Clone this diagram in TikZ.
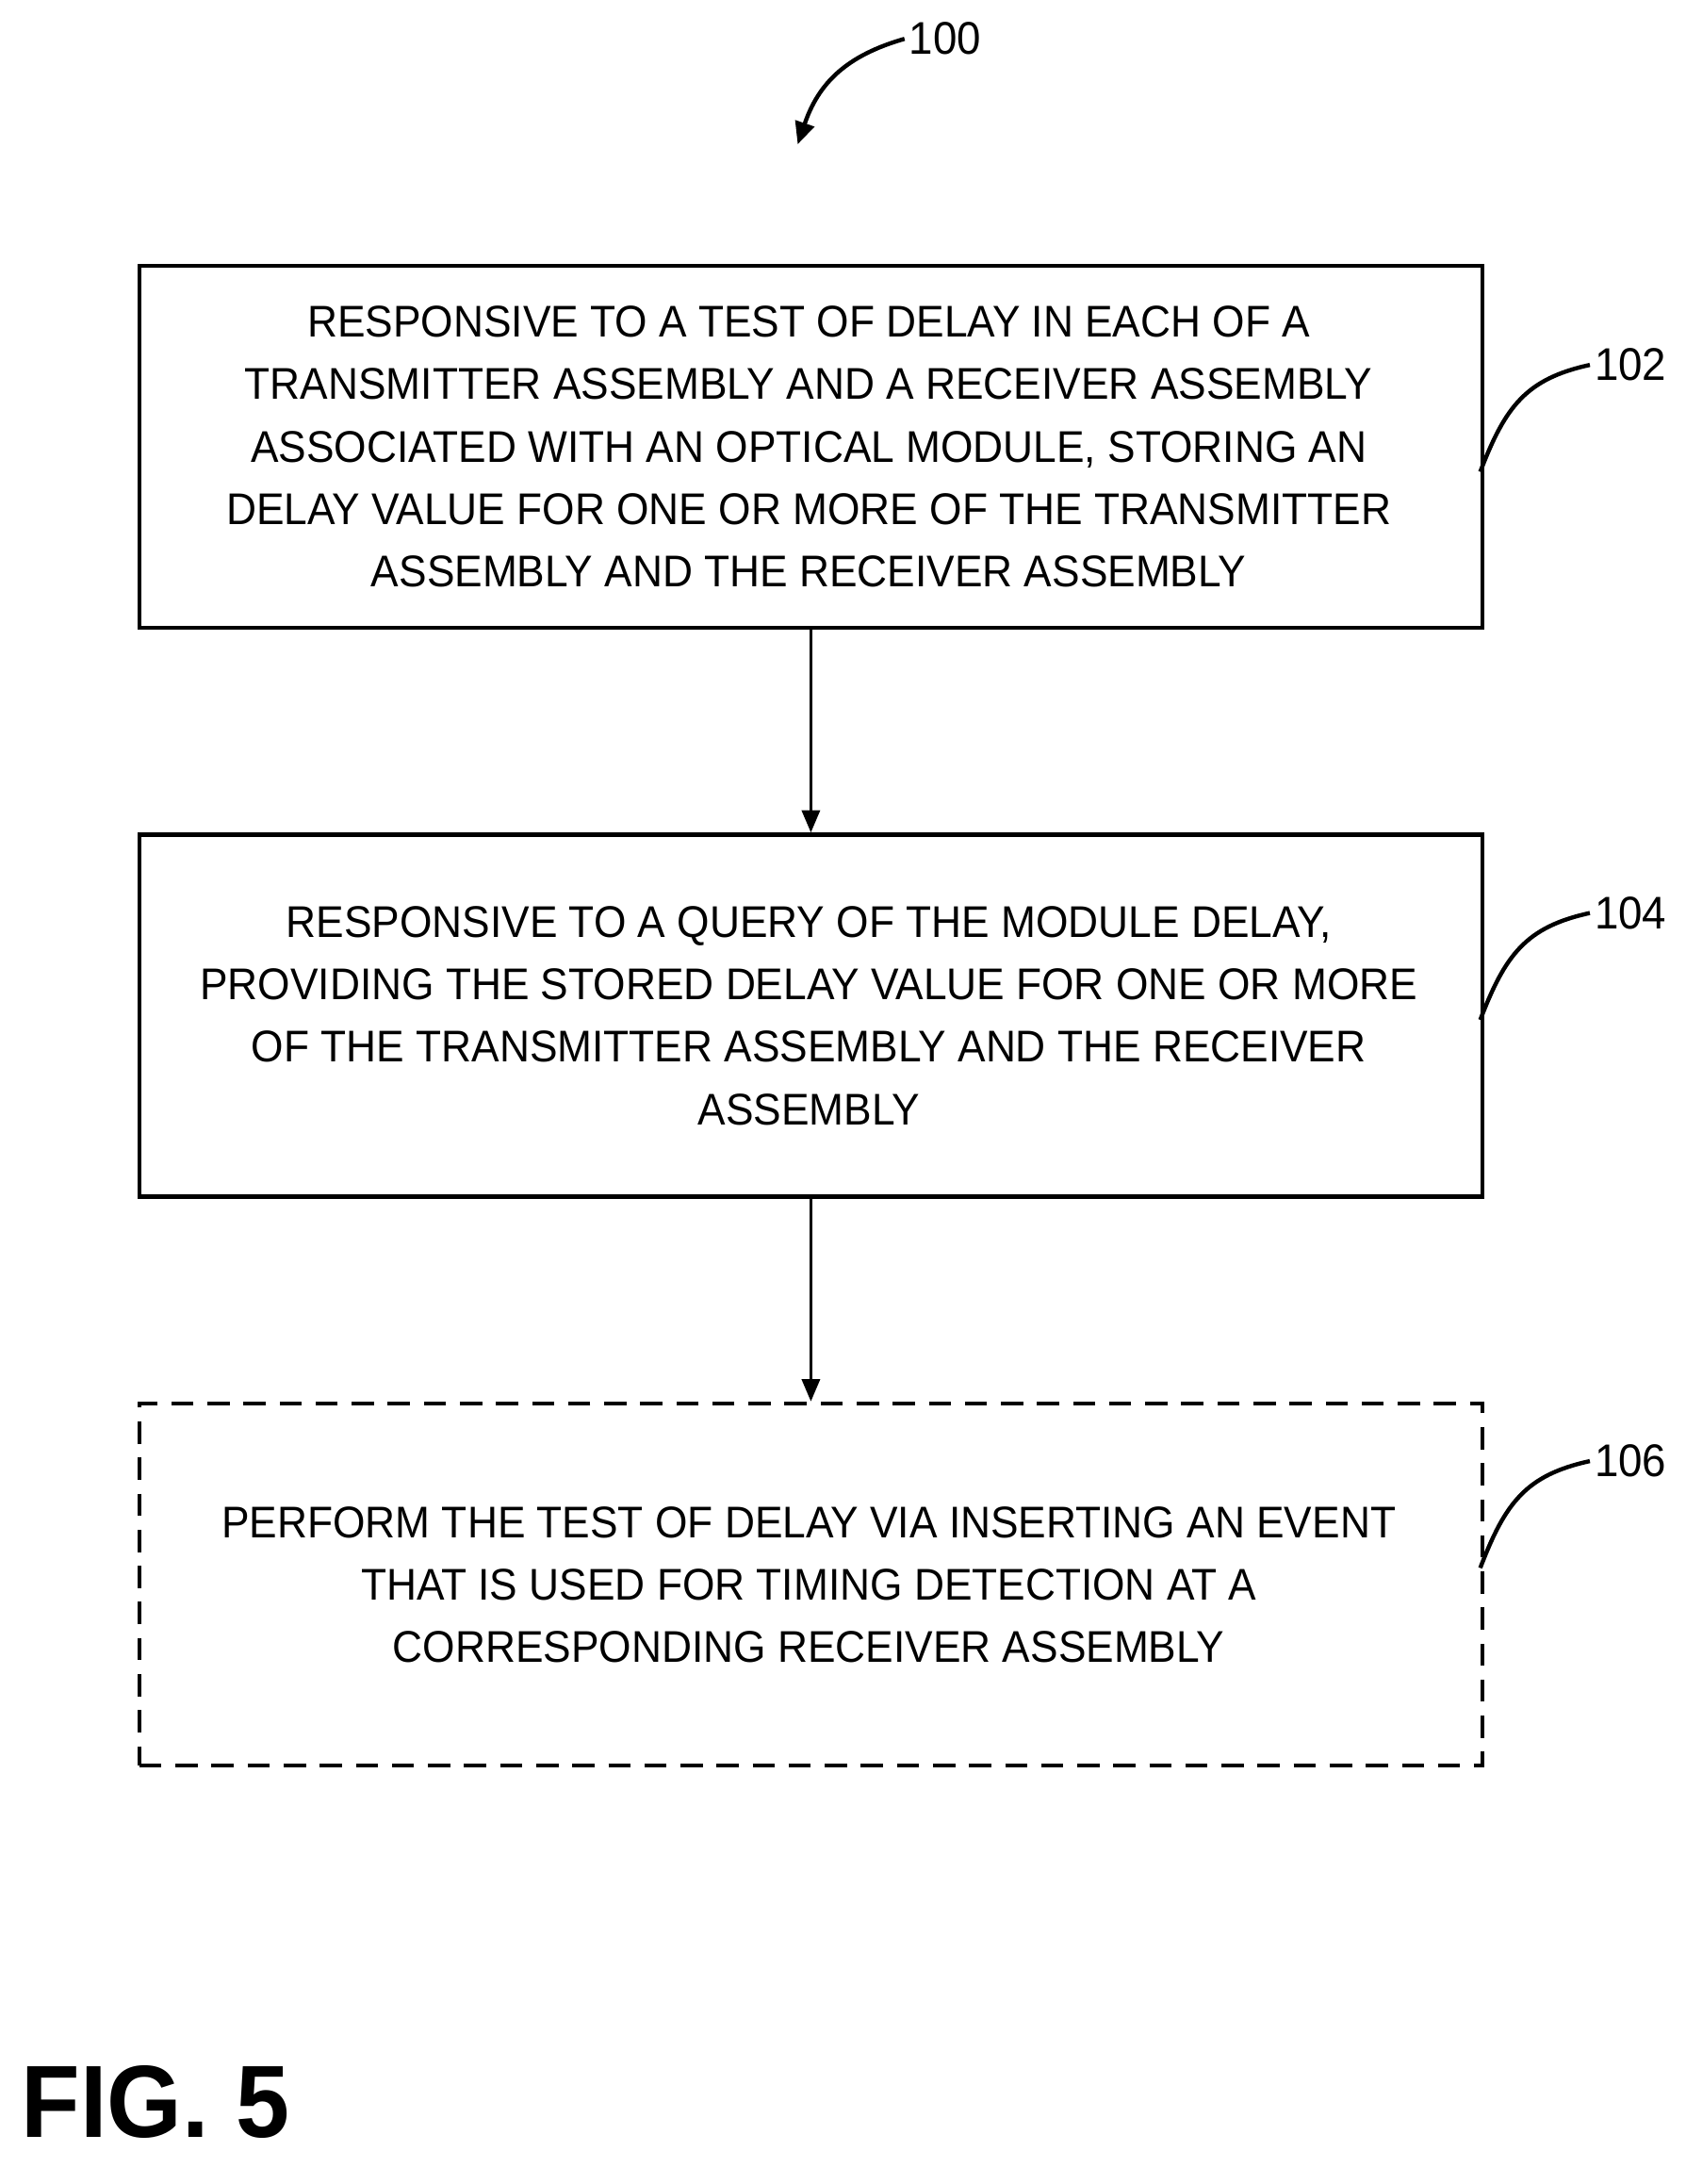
\documentclass[tikz,border=0pt]{standalone}
\usepackage{fontspec}
\setmainfont[FakeStretch=0.94]{Liberation Sans}
\usetikzlibrary{arrows.meta}
\begin{document}
\begin{tikzpicture}[x=1pt,y=-1pt,
 box/.style={draw,line width=3pt,minimum width=968pt,minimum height=261pt,anchor=north west,inner sep=0pt},
 txt/.style={align=center,font=\fontsize{32}{45}\selectfont},
 lbl/.style={font=\fontsize{33}{36}\selectfont},
 arr/.style={line width=2pt,-{Triangle[length=16pt,width=13pt]}}]
\useasboundingbox (0,0) rectangle (1215,1574);
\node[box] (b1) at (99,190) {};
\node[txt] at (583,322) {RESPONSIVE TO A TEST OF DELAY IN EACH OF A\\TRANSMITTER ASSEMBLY AND A RECEIVER ASSEMBLY\\ASSOCIATED WITH AN OPTICAL MODULE, STORING AN\\DELAY VALUE FOR ONE OR MORE OF THE TRANSMITTER\\ASSEMBLY AND THE RECEIVER ASSEMBLY};
\node[box] (b2) at (99,600) {};
\node[txt] at (583,732) {RESPONSIVE TO A QUERY OF THE MODULE DELAY,\\PROVIDING THE STORED DELAY VALUE FOR ONE OR MORE\\OF THE TRANSMITTER ASSEMBLY AND THE RECEIVER\\ASSEMBLY};
\node[box,dash pattern=on 16pt off 10pt] (b3) at (99,1010) {};
\node[txt] at (583,1142) {PERFORM THE TEST OF DELAY VIA INSERTING AN EVENT\\THAT IS USED FOR TIMING DETECTION AT A\\CORRESPONDING RECEIVER ASSEMBLY};
\draw[arr] (b1.south) -- (b2.north);
\draw[arr] (b2.south) -- (b3.north);
\node[lbl,anchor=west] (l100) at (652,28) {100};
\node[lbl,anchor=west] (l102) at (1146,263) {102};
\node[lbl,anchor=west] (l104) at (1146,658) {104};
\node[lbl,anchor=west] (l106) at (1146,1053) {106};
\draw[line width=3pt,-{Triangle[length=16pt,width=14pt]}] (l100.west) .. controls (610,40) and (590,60) .. (575,104);
\foreach \y in {263,658,1053}{
 \draw[line width=3pt] (1067,\y+77) .. controls (1085,\y+30) and (1100,\y+10) .. (1146,\y);}
\node[anchor=west,font=\bfseries\fontsize{74}{76}\selectfont] (fig) at (12,1515) {FIG. 5};
\end{tikzpicture}
\end{document}
